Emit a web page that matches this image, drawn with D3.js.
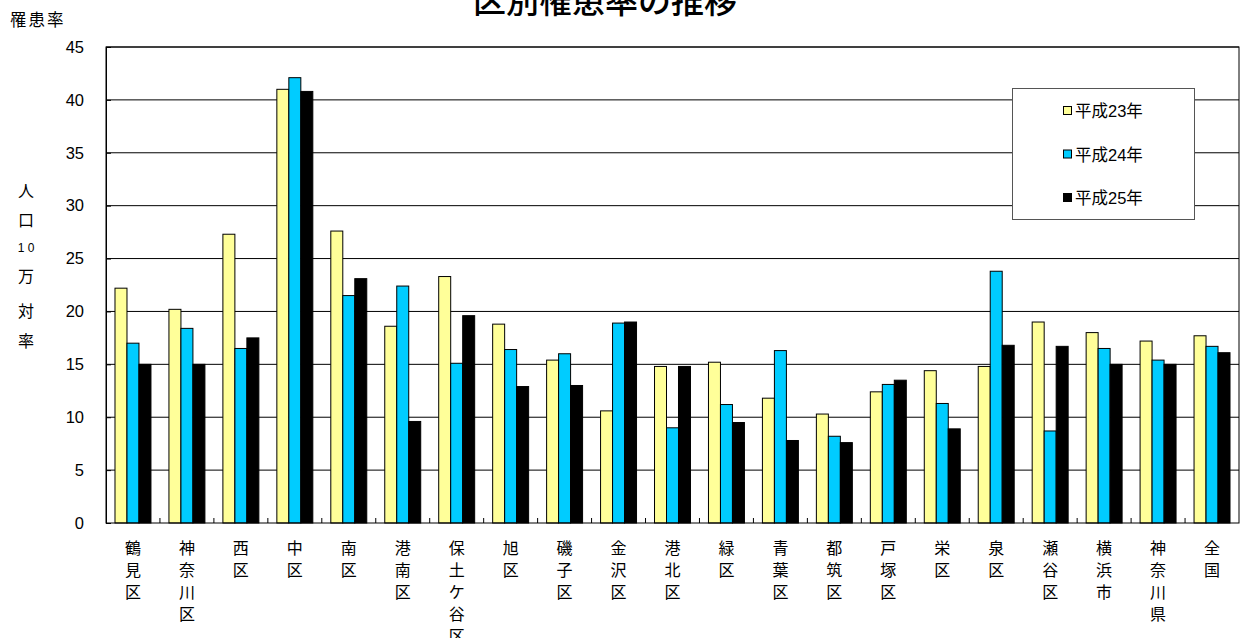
<!DOCTYPE html>
<html>
<head>
<meta charset="utf-8">
<script src="https://cdn.jsdelivr.net/npm/d3@7"></script>
<style>
  html, body { margin: 0; padding: 0; background: #fff; }
  svg { display: block; }
</style>
</head>
<body>
<svg id="chart" width="1242" height="638"></svg>
<script>
// Wards (and reference areas), one label per group of bars
const categories = [
  "鶴見区", "神奈川区", "西区", "中区", "南区", "港南区", "保土ケ谷区", "旭区",
  "磯子区", "金沢区", "港北区", "緑区", "青葉区", "都筑区", "戸塚区", "栄区",
  "泉区", "瀬谷区", "横浜市", "神奈川県", "全国"
];

const seriesNames = ["平成23年", "平成24年", "平成25年"];

// Incidence per 100,000 population
const h23 = [22.2, 20.2, 27.3, 41.0, 27.6, 18.6, 23.3, 18.8, 15.4, 10.6, 14.8,
             15.2, 11.8, 10.3, 12.4, 14.4, 14.8, 19.0, 18.0, 17.2, 17.7];
const h24 = [17.0, 18.4, 16.5, 42.1, 21.5, 22.4, 15.1, 16.4, 16.0, 18.9, 9.0,
             11.2, 16.3, 8.2, 13.1, 11.3, 23.8, 8.7, 16.5, 15.4, 16.7];
const h25 = [15.0, 15.0, 17.5, 40.8, 23.1, 9.6, 19.6, 12.9, 13.0, 19.0, 14.8,
             9.5, 7.8, 7.6, 13.5, 8.9, 16.8, 16.7, 15.0, 15.0, 16.1];

const yTicks = [0, 5, 10, 15, 20, 25, 30, 35, 40, 45];

const seriesValues = [h23, h24, h25];
const colors = ["#FFFF99", "#00CCFF", "#000000"];

const svg = d3.select("#chart");
const cjk = "'Noto Sans CJK JP', 'Noto Sans CJK SC', sans-serif";
const latin = "'Liberation Sans', Arial, 'Noto Sans CJK JP', sans-serif";

const plot = { left: 106, right: 1239, top: 47, bottom: 523 };

const x0 = d3.scaleBand()
  .domain(categories)
  .range([plot.left, plot.right])
  .paddingInner(0)
  .paddingOuter(0);

const bw = x0.bandwidth();
const x1 = d3.scaleBand()
  .domain(seriesNames)
  .range([bw / 6, bw * 5 / 6]);

const y = d3.scaleLinear()
  .domain([0, 45])
  .range([plot.bottom, plot.top]);

// Title
svg.append("text")
  .attr("x", 605)
  .attr("y", 12.5)
  .attr("text-anchor", "middle")
  .style("font-family", cjk)
  .style("font-size", "33px")
  .style("font-weight", "500")
  .style("fill", "#000")
  .text("区別罹患率の推移");

// Unit label above the axis
svg.append("text")
  .attr("x", 10)
  .attr("y", 26)
  .style("font-family", cjk)
  .style("font-size", "16.5px")
  .style("letter-spacing", "2px")
  .text("罹患率");

// Vertical axis caption 人口10万対率
const capLines = [
  { t: "人", y: 197, size: 16 },
  { t: "口", y: 226, size: 16 },
  { t: "1 0", y: 252, size: 12 },
  { t: "万", y: 282, size: 16 },
  { t: "対", y: 317, size: 16 },
  { t: "率", y: 347, size: 16 }
];
svg.append("g")
  .selectAll("text")
  .data(capLines)
  .join("text")
  .attr("x", 26)
  .attr("y", d => d.y)
  .attr("text-anchor", "middle")
  .style("font-family", d => d.size === 12 ? latin : cjk)
  .style("font-size", d => d.size + "px")
  .text(d => d.t);

// Horizontal gridlines
svg.append("g")
  .selectAll("line")
  .data(yTicks.filter(v => v > 0))
  .join("line")
  .attr("x1", plot.left)
  .attr("x2", plot.right)
  .attr("y1", d => y(d))
  .attr("y2", d => y(d))
  .attr("stroke", "#000")
  .attr("stroke-width", 1);

// Bars
const groups = svg.append("g")
  .selectAll("g")
  .data(categories)
  .join("g")
  .attr("transform", d => `translate(${x0(d)},0)`);

groups.selectAll("rect")
  .data((d, i) => seriesNames.map((s, k) => ({ s, v: seriesValues[k][i], k })))
  .join("rect")
  .attr("x", d => x1(d.s))
  .attr("width", x1.bandwidth())
  .attr("y", d => y(d.v))
  .attr("height", d => y(0) - y(d.v))
  .attr("fill", d => colors[d.k])
  .attr("stroke", "#000")
  .attr("stroke-width", 1);

// Plot frame
svg.append("rect")
  .attr("x", plot.left)
  .attr("y", plot.top)
  .attr("width", plot.right - plot.left)
  .attr("height", plot.bottom - plot.top)
  .attr("fill", "none")
  .attr("stroke", "#000")
  .attr("stroke-width", 1);

// Y axis
const yAxis = d3.axisLeft(y)
  .tickValues(yTicks)
  .tickSizeInner(-5)
  .tickSizeOuter(0)
  .tickPadding(22);
const yg = svg.append("g")
  .attr("transform", `translate(${plot.left},0)`)
  .call(yAxis);
yg.select(".domain").attr("stroke", "#000");
yg.selectAll(".tick line").attr("stroke", "#000");
yg.selectAll(".tick text")
  .style("font-family", latin)
  .style("font-size", "16.5px")
  .attr("fill", "#000");

// Category ticks along the bottom, pointing into the plot
const boundaries = categories.slice(1).map(c => x0(c));
svg.append("g")
  .selectAll("line")
  .data(boundaries)
  .join("line")
  .attr("x1", d => d)
  .attr("x2", d => d)
  .attr("y1", plot.bottom)
  .attr("y2", plot.bottom - 5)
  .attr("stroke", "#000");

// Category labels, written top to bottom
const lineGap = 22;
const lbl = svg.append("g")
  .selectAll("text")
  .data(categories)
  .join("text")
  .attr("text-anchor", "middle")
  .style("font-family", cjk)
  .style("font-size", "16px")
  .style("fill", "#000");
lbl.selectAll("tspan")
  .data(d => Array.from(d).map((ch, i) => ({ ch, i, cat: d })))
  .join("tspan")
  .attr("x", d => x0(d.cat) + bw / 2)
  .attr("y", d => 554 + d.i * lineGap)
  .text(d => d.ch);

// Legend
const legend = svg.append("g");
legend.append("rect")
  .attr("x", 1012.5)
  .attr("y", 88.5)
  .attr("width", 182)
  .attr("height", 131)
  .attr("fill", "#fff")
  .attr("stroke", "#555")
  .attr("stroke-width", 1);
const items = legend.selectAll("g.item")
  .data(seriesNames)
  .join("g")
  .attr("class", "item")
  .attr("transform", (d, i) => `translate(1063,${111 + i * 43.5})`);
items.append("rect")
  .attr("x", 0.5)
  .attr("y", -4.5)
  .attr("width", 8)
  .attr("height", 8)
  .attr("fill", (d, i) => colors[i])
  .attr("stroke", "#000");
items.append("text")
  .attr("x", 12)
  .attr("y", 6)
  .style("font-family", latin)
  .style("font-size", "16.5px")
  .text(d => d);
</script>
</body>
</html>
